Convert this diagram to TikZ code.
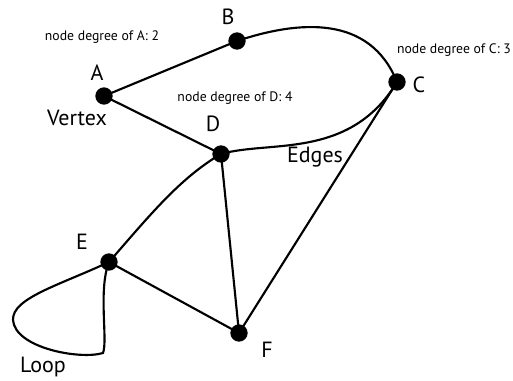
\documentclass[tikz,border=0pt]{standalone}
\usepackage{fontspec}
\setmainfont{PT Sans}
\begin{document}
\begin{tikzpicture}[x=0.75pt,y=-0.75pt,line width=1.6pt,
  vtx/.style={circle,fill=black,inner sep=0pt,minimum size=13pt},
  lbl/.style={font=\fontsize{16.5}{18}\selectfont},
  note/.style={font=\fontsize{10.3}{12}\selectfont}]
  \useasboundingbox (0,0) rectangle (513,381);
  % vertices
  \node[vtx] (A) at (104,96) {};
  \node[vtx] (B) at (237,41) {};
  \node[vtx] (C) at (397,82) {};
  \node[vtx] (D) at (221,154) {};
  \node[vtx] (E) at (109,262) {};
  \node[vtx] (F) at (239,333) {};
  % letters
  \node[lbl] (la) at (97,73) {A};
  \node[lbl] (lb) at (228,17) {B};
  \node[lbl] (lc) at (419,85) {C};
  \node[lbl] (ld) at (213,124) {D};
  \node[lbl] (le) at (82,242) {E};
  \node[lbl] (lf) at (267,350) {F};
  \node[lbl] (vertex) at (77,118) {Vertex};
  \node[lbl] (edges) at (315,157) {Edges};
  \node[lbl] (loop) at (43,367) {Loop};
  % degrees
  \node[note] (dega) at (102,37) {node degree of A: 2};
  \node[note] (degc) at (454,50) {node degree of C: 3};
  \node[note] (degd) at (235,98) {node degree of D: 4};
  % edges
  \draw (A.center) -- (B.center);
  \draw (A.center) -- (D.center);
  \draw (B.center) .. controls (300,20) and (370,15) .. (C.center);
  \draw (D.center) .. controls (270,140) and (350,160) .. (C.center);
  \draw (E.center) .. controls (150,215) and (180,178) .. (D.center);
  \draw (D.center) -- (F.center);
  \draw (C.center) -- (F.center);
  \draw (E.center) -- (F.center);
  \draw (E.center) .. controls (60,285) and (12,298) .. (13,320)
    .. controls (15,348) and (80,360) .. (103,353)
    .. controls (108,340) and (98,290) .. (E.center);
\end{tikzpicture}
\end{document}
